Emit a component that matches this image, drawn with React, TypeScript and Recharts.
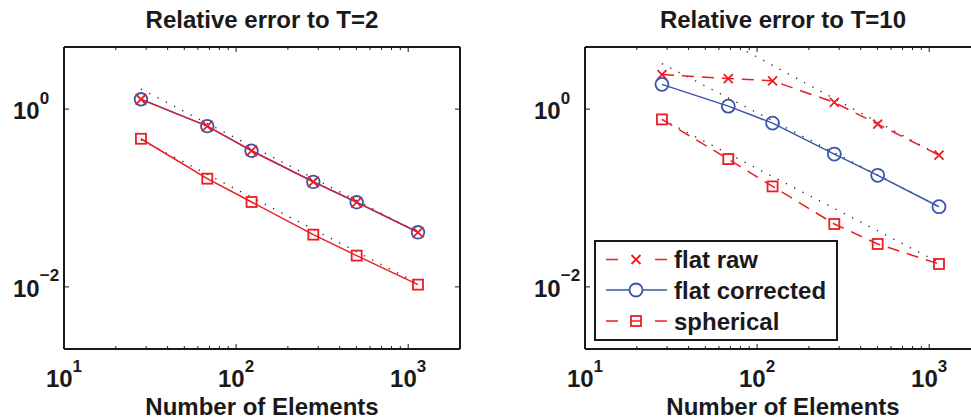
import React from 'react';
import { LineChart, Line, XAxis, YAxis, Legend } from 'recharts';

// ---------- data ----------
const elements = [28, 68, 123, 281, 502, 1140];

const t2FlatRaw = [1.29, 0.644, 0.34, 0.152, 0.0895, 0.0411];
const t2FlatCorrected = [1.29, 0.644, 0.34, 0.152, 0.0895, 0.0411];
const t2Spherical = [0.464, 0.165, 0.0902, 0.0387, 0.0225, 0.0106];

const t10FlatRaw = [2.45, 2.21, 2.08, 1.19, 0.678, 0.304];
const t10FlatCorrected = [1.9, 1.08, 0.696, 0.312, 0.18, 0.0798];
const t10Spherical = [0.766, 0.274, 0.135, 0.051, 0.0304, 0.0181];

// dotted slope guides (end points)
const t2GuideUpperN = [28, 1140];
const t2GuideUpperV = [1.68, 0.0412];
const t2GuideLowerN = [28, 1140];
const t2GuideLowerV = [0.45, 0.0109];

const t10GuideSteepN = [70, 1140];
const t10GuideSteepV = [5.6, 0.304];
const t10GuideMidN = [28, 1140];
const t10GuideMidV = [3.25, 0.0798];
const t10GuideLowN = [28, 1140];
const t10GuideLowV = [0.766, 0.0188];

const xMajorTicks = [10, 100, 1000];
const xMinorTicks = [20, 30, 40, 50, 60, 70, 80, 90, 200, 300, 400, 500, 600, 700, 800, 900, 2000];
const yMajorTicks = [0.01, 1];
const xDomain = [10, 2000];
const yDomain = [0.002, 5];

const legendNames = ['flat raw', 'flat corrected', 'spherical'];

// ---------- style ----------
const RED = '#ec1c24';
const BLUE = '#3a56a8';
const INK = '#1a1a1a';
const FONT = '"Liberation Sans", Arial, Helvetica, sans-serif';

const pts = (ns: number[], vs: number[]) => ns.map((n, i) => ({ n, v: vs[i] }));

// ---------- markers ----------
const crossPath = (cx: number, cy: number, s: number) =>
  `M${cx - s},${cy - s}L${cx + s},${cy + s}M${cx - s},${cy + s}L${cx + s},${cy - s}`;

const crossDot = (s: number) => (p: any) => (
  <path key={`x-${p.index}`} d={crossPath(p.cx, p.cy, s)} stroke={RED} strokeWidth={1.8} fill="none" />
);
const circleDot = (r: number) => (p: any) => (
  <circle key={`c-${p.index}`} cx={p.cx} cy={p.cy} r={r} stroke={BLUE} strokeWidth={1.8} fill="none" />
);
const squareDot = (s: number) => (p: any) => (
  <rect key={`s-${p.index}`} x={p.cx - s} y={p.cy - s} width={2 * s} height={2 * s} stroke={RED} strokeWidth={1.8} fill="none" />
);

// ---------- ticks ----------
const expText = (v: number) => {
  const e = Math.round(Math.log10(v));
  return e < 0 ? `\u2212${Math.abs(e)}` : `${e}`;
};

const BottomTick = (props: any) => {
  const { x, y, payload } = props;
  const v = payload.value;
  const major = xMajorTicks.includes(v);
  return (
    <g>
      <line x1={x} x2={x} y1={y} y2={y - (major ? 5 : 3)} stroke={INK} strokeWidth={1} />
      {major && (
        <text x={x} y={y + 38} textAnchor="middle" fontFamily={FONT} fontWeight="bold" fontSize={24} fill={INK}>
          <tspan>10</tspan>
          <tspan dy={-15} fontSize={17}>{expText(v)}</tspan>
        </text>
      )}
    </g>
  );
};

const TopTick = (props: any) => {
  const { x, y, payload } = props;
  const major = xMajorTicks.includes(payload.value);
  return <line x1={x} x2={x} y1={y} y2={y + (major ? 5 : 3)} stroke={INK} strokeWidth={1} />;
};

const LeftTick = (props: any) => {
  const { x, y, payload } = props;
  return (
    <g>
      <line x1={x} x2={x + 5} y1={y} y2={y} stroke={INK} strokeWidth={1} />
      <text x={x - 51} y={y + 10} textAnchor="start" fontFamily={FONT} fontWeight="bold" fontSize={24} fill={INK}>
        <tspan>10</tspan>
        <tspan dy={-15.5} fontSize={17}>{expText(payload.value)}</tspan>
      </text>
    </g>
  );
};

const RightTick = (props: any) => {
  const { x, y } = props;
  return <line x1={x} x2={x - 5} y1={y} y2={y} stroke={INK} strokeWidth={1} />;
};

// ---------- legend ----------
const LegendBox = () => {
  const rows = [19.5, 50, 81];
  const x0 = 12;
  const x1 = 73;
  const xm = 42;
  return (
    <svg width={246} height={102} style={{ display: 'block' }}>
      <rect x={1} y={1} width={242} height={99} fill="#fff" stroke={INK} strokeWidth={2} />
      {legendNames.map((name, i) => {
        const cy = rows[i];
        let sample: React.ReactNode;
        if (i === 1) {
          sample = (
            <g>
              <line x1={x0} x2={x1} y1={cy} y2={cy} stroke={BLUE} strokeWidth={1.5} />
              <circle cx={xm} cy={cy} r={6.5} stroke={BLUE} strokeWidth={1.8} fill="#fff" />
            </g>
          );
        } else {
          sample = (
            <g>
              <line x1={x0} x2={x0 + 12} y1={cy} y2={cy} stroke={RED} strokeWidth={1.5} />
              <line x1={x1 - 12} x2={x1} y1={cy} y2={cy} stroke={RED} strokeWidth={1.5} />
              {i === 0 ? (
                <path d={crossPath(xm, cy, 4.5)} stroke={RED} strokeWidth={1.8} fill="none" />
              ) : (
                <g>
                  <rect x={xm - 5} y={cy - 5} width={10} height={10} stroke={RED} strokeWidth={1.8} fill="none" />
                  <line x1={xm - 5} x2={xm + 5} y1={cy} y2={cy} stroke={RED} strokeWidth={1.5} />
                </g>
              )}
            </g>
          );
        }
        return (
          <g key={name}>
            {sample}
            <text x={80} y={cy + 8.5} fontFamily={FONT} fontWeight="bold" fontSize={24} fill={INK}>
              {name}
            </text>
          </g>
        );
      })}
    </svg>
  );
};

// ---------- axes ----------
const axes = () => [
  <XAxis
    key="xb"
    xAxisId="b"
    dataKey="n"
    type="number"
    scale="log"
    domain={xDomain}
    allowDataOverflow
    ticks={[...xMajorTicks, ...xMinorTicks]}
    interval={0}
    tick={BottomTick}
    tickLine={false}
    tickSize={0}
    tickMargin={0}
    axisLine={{ stroke: INK, strokeWidth: 2 }}
    height={40}
  />,
  <XAxis
    key="xt"
    xAxisId="t"
    orientation="top"
    dataKey="n"
    type="number"
    scale="log"
    domain={xDomain}
    allowDataOverflow
    ticks={[...xMajorTicks, ...xMinorTicks]}
    interval={0}
    tick={TopTick}
    tickLine={false}
    tickSize={0}
    tickMargin={0}
    axisLine={{ stroke: INK, strokeWidth: 2 }}
    height={1}
  />,
  <YAxis
    key="yl"
    yAxisId="l"
    dataKey="v"
    type="number"
    scale="log"
    domain={yDomain}
    allowDataOverflow
    ticks={yMajorTicks}
    interval={0}
    tick={LeftTick}
    tickLine={false}
    tickSize={0}
    tickMargin={0}
    axisLine={{ stroke: INK, strokeWidth: 2 }}
    width={60}
  />,
  <YAxis
    key="yr"
    yAxisId="r"
    orientation="right"
    dataKey="v"
    type="number"
    scale="log"
    domain={yDomain}
    allowDataOverflow
    ticks={yMajorTicks}
    interval={0}
    tick={RightTick}
    tickLine={false}
    tickSize={0}
    tickMargin={0}
    axisLine={{ stroke: INK, strokeWidth: 2 }}
    width={1}
  />,
];

const guide = (key: string, data: any[]) => (
  <Line
    key={key}
    xAxisId="b"
    yAxisId="l"
    data={data}
    dataKey="v"
    stroke="#222"
    strokeWidth={1.3}
    strokeDasharray="1.3 8"
    dot={false}
    activeDot={false}
    legendType="none"
    isAnimationActive={false}
  />
);

const titleStyle = (left: number): React.CSSProperties => ({
  position: 'absolute',
  left,
  width: 396,
  textAlign: 'center',
  fontFamily: FONT,
  fontWeight: 'bold',
  fontSize: 24,
  lineHeight: '24px',
  color: INK,
  whiteSpace: 'nowrap',
});

export default function App() {
  return (
    <div
      style={{
        position: 'absolute',
        left: 0,
        top: 0,
        width: 971,
        height: 419,
        overflow: 'hidden',
        background: '#fff',
      }}
    >
      {/* Left panel */}
      <div style={{ position: 'absolute', left: 0, top: 0 }}>
        <LineChart width={480} height={419} margin={{ top: 46, right: 19, bottom: 30, left: 4 }}>
          {axes()}
          {guide('g1', pts(t2GuideUpperN, t2GuideUpperV))}
          {guide('g2', pts(t2GuideLowerN, t2GuideLowerV))}
          <Line
            xAxisId="b"
            yAxisId="l"
            data={pts(elements, t2Spherical)}
            dataKey="v"
            name="spherical"
            stroke={RED}
            strokeWidth={1.5}
            dot={squareDot(5)}
            activeDot={false}
            isAnimationActive={false}
          />
          <Line
            xAxisId="b"
            yAxisId="l"
            data={pts(elements, t2FlatCorrected)}
            dataKey="v"
            name="flat corrected"
            stroke={BLUE}
            strokeWidth={1.6}
            dot={circleDot(6.3)}
            activeDot={false}
            isAnimationActive={false}
          />
          <Line
            xAxisId="b"
            yAxisId="l"
            data={pts(elements, t2FlatRaw)}
            dataKey="v"
            name="flat raw"
            stroke={RED}
            strokeWidth={1.2}
            dot={crossDot(5.3)}
            activeDot={false}
            isAnimationActive={false}
          />
        </LineChart>
        <div style={{ ...titleStyle(64), top: 8 }}>Relative error to T=2</div>
        <div style={{ ...titleStyle(64), top: 395 }}>Number of Elements</div>
      </div>

      {/* Right panel */}
      <div style={{ position: 'absolute', left: 480, top: 0, width: 510, height: 419 }}>
        <LineChart width={510} height={419} margin={{ top: 46, right: 8, bottom: 30, left: 45 }}>
          {axes()}
          {guide('g3', pts(t10GuideSteepN, t10GuideSteepV))}
          {guide('g4', pts(t10GuideMidN, t10GuideMidV))}
          {guide('g5', pts(t10GuideLowN, t10GuideLowV))}
          <Line
            xAxisId="b"
            yAxisId="l"
            data={pts(elements, t10FlatRaw)}
            dataKey="v"
            name="flat raw"
            stroke={RED}
            strokeWidth={1.5}
            strokeDasharray="12 8"
            dot={crossDot(4.5)}
            activeDot={false}
            isAnimationActive={false}
          />
          <Line
            xAxisId="b"
            yAxisId="l"
            data={pts(elements, t10FlatCorrected)}
            dataKey="v"
            name="flat corrected"
            stroke={BLUE}
            strokeWidth={1.5}
            dot={circleDot(6.5)}
            activeDot={false}
            isAnimationActive={false}
          />
          <Line
            xAxisId="b"
            yAxisId="l"
            data={pts(elements, t10Spherical)}
            dataKey="v"
            name="spherical"
            stroke={RED}
            strokeWidth={1.5}
            strokeDasharray="12 8"
            dot={squareDot(5)}
            activeDot={false}
            isAnimationActive={false}
          />
          <Legend
            layout="horizontal"
            verticalAlign="middle"
            align="center"
            wrapperStyle={{ position: 'absolute', left: 114, top: 240, width: 246, height: 102 }}
            content={() => <LegendBox />}
          />
        </LineChart>
        <div style={{ ...titleStyle(105), top: 8 }}>Relative error to T=10</div>
        <div style={{ ...titleStyle(105), top: 395 }}>Number of Elements</div>
      </div>
    </div>
  );
}
